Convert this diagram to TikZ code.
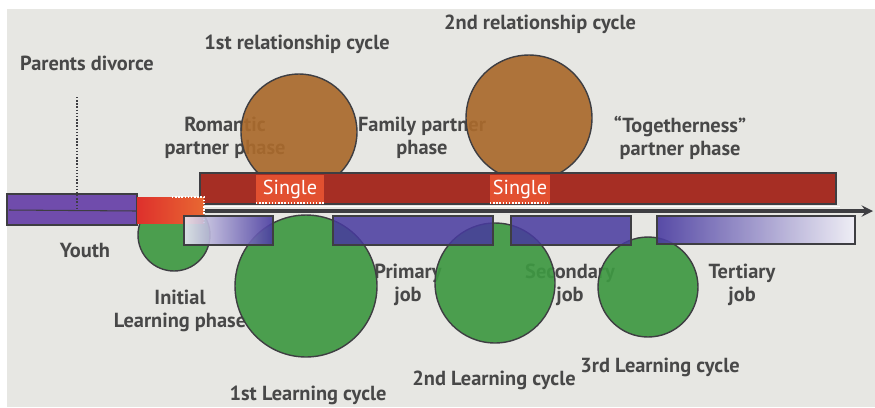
\documentclass[tikz,border=0pt]{standalone}
\usepackage{fontspec}
\setmainfont{PT Sans}
\definecolor{bgcol}{RGB}{231,231,227}
\definecolor{txtcol}{RGB}{72,72,72}
\definecolor{edgecol}{RGB}{62,62,66}
\definecolor{purplecol}{RGB}{112,76,172}
\definecolor{barred}{RGB}{166,46,36}
\definecolor{singlecol}{RGB}{226,80,48}
\definecolor{browncol}{RGB}{170,106,44}
\definecolor{greencol}{RGB}{62,152,66}
\definecolor{jobcol}{RGB}{72,58,160}
\definecolor{boxred}{RGB}{222,48,44}
\definecolor{boxorange}{RGB}{232,104,50}
\tikzset{
	lbl/.style={text=txtcol,font=\bfseries\fontsize{11.6}{13}\selectfont,align=center,inner sep=0pt},
	singlelbl/.style={text=white,font=\fontsize{11.5}{12}\selectfont,inner sep=0pt},
	relcirc/.style={circle,fill=browncol,draw=edgecol,thick,inner sep=0pt,fill opacity=0.92},
	learncirc/.style={circle,fill=greencol,draw=edgecol,thick,inner sep=0pt,fill opacity=0.92},
	bar/.style={draw=edgecol,thick},
	jobbar/.style={bar,fill=jobcol,fill opacity=0.85},
	singlebox/.style={fill=singlecol},
	dotedge/.style={white,densely dotted,thick},
	axis/.style={->,draw=edgecol,line width=1.8pt},
	divline/.style={edgecol,densely dotted,thick},
	>=stealth,
	}

\begin{document}
\begin{tikzpicture}[x=0.02cm,y=-0.02cm]
\useasboundingbox (0,0) rectangle (875,407);
% SFONDO
\fill[bgcol] (7,9) rectangle (875,407);
% TESTI
\node[lbl] (divorce) at (87,63) {Parents divorce};
\node[lbl] (rel1lbl) at (297,44) {1st relationship cycle};
\node[lbl] (rel2lbl) at (540,24) {2nd relationship cycle};
\node[lbl] (romantic) at (225,138) {Romantic\\partner phase};
\node[lbl] (family) at (422,138) {Family partner\\phase};
\node[lbl] (together) at (680,138) {``Togetherness''\\partner phase};
\node[lbl] (youth) at (85,250) {Youth};
\node[lbl] (initial) at (180,311) {Initial\\Learning phase};
\node[lbl] (primary) at (408,285) {Primary\\job};
\node[lbl] (secondary) at (570,285) {Secondary\\job};
\node[lbl] (tertiary) at (742,285) {Tertiary\\job};
\node[lbl] (learn1lbl) at (308,395) {1st Learning cycle};
\node[lbl] (learn2lbl) at (494,380) {2nd Learning cycle};
\node[lbl] (learn3lbl) at (660,367) {3rd Learning cycle};
% CERCHI
\node[relcirc,minimum size=2.32cm] (rel1) at (299,132) {};
\node[relcirc,minimum size=2.52cm] (rel2) at (529,118) {};
\node[learncirc,minimum size=1.44cm] (learn0) at (174,235) {};
\node[learncirc,minimum size=2.84cm] (learn1) at (306,286) {};
\node[learncirc,minimum size=2.4cm] (learn2) at (495,283) {};
\node[learncirc,minimum size=2.0cm] (learn3) at (648,287) {};
% GIOVINEZZA E ASSE
\draw[bar,fill=purplecol] (7,194) rectangle (137,225);
\coordinate (divtop) at (77,97);
\coordinate (divbot) at (77,210);
\draw[divline] (divtop) -- (divbot);
\coordinate (youthstart) at (9,210);
\coordinate (axstart) at (137,211);
\coordinate (axend) at (873,211);
\draw[edgecol,semithick] (youthstart) -- (axstart);
\draw[axis] (axstart) -- (axend);
% BARRA ROSSA
\draw[bar,fill=barred] (200,173) rectangle (836,204);
\draw[white,line width=1pt] (205,206.5) -- (840,206.5);
\fill[singlebox] (256,175) rectangle (324,204);
\fill[singlebox] (490,175) rectangle (550,204);
\draw[dotedge] (256,203) -- (324,203);
\draw[dotedge] (490,203) -- (550,203);
\node[singlelbl] (single1) at (290,189) {Single};
\node[singlelbl] (single2) at (520,189) {Single};
% BOX INIZIALE
\shade[left color=boxred,right color=boxorange] (137,197) rectangle (204,223);
\draw[dotedge] (172,197) -- (204,197) -- (204,223);
% LAVORI
\draw[bar,left color=jobcol!12!white,right color=jobcol,fill opacity=0.9] (184,216) rectangle (273,245);
\draw[jobbar] (333,216) rectangle (493,245);
\draw[jobbar] (511,216) rectangle (631,245);
\draw[bar,left color=jobcol,right color=jobcol!8!white,fill opacity=0.9] (657,216) rectangle (855,244);
\end{tikzpicture}
\end{document}
